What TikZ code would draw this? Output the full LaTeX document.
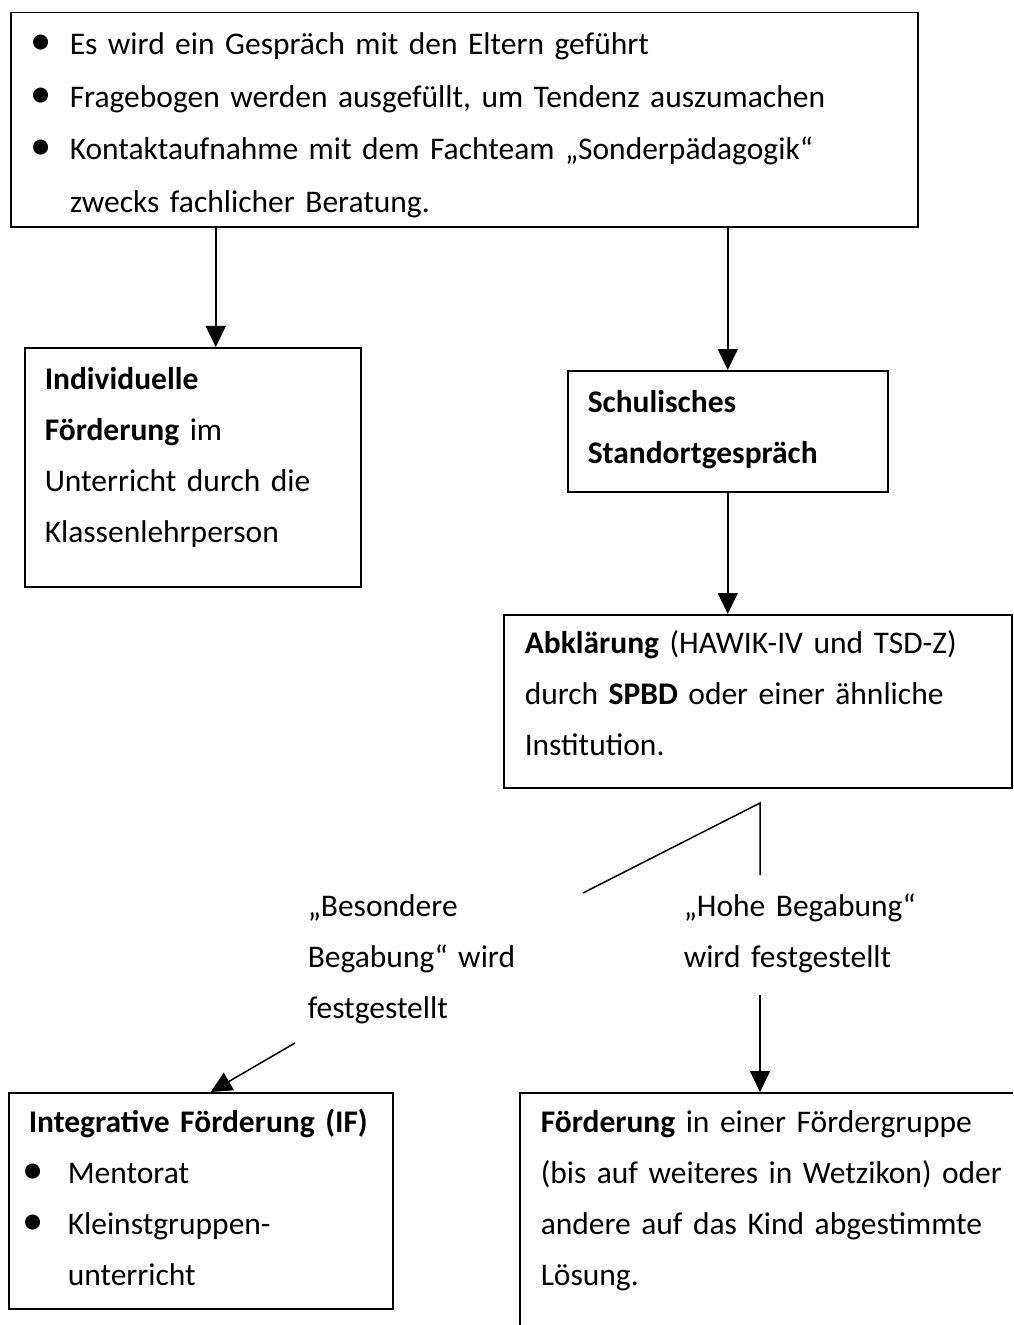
\documentclass[tikz,border=0pt]{standalone}
\usepackage{fontspec}
\setmainfont{Carlito}[WordSpace=0.8]
\usetikzlibrary{positioning,arrows.meta,calc}
\tikzset{>={Triangle[length=8.4pt,width=8pt]}}
\newcommand{\itm}{\makebox[13.6pt][l]{\hspace{-2pt}\scalebox{1.35}{\textbullet}}}
\newcommand{\itmb}{\makebox[15.6pt][l]{\hspace{-2.4pt}\scalebox{1.35}{\textbullet}}}

\begin{document}
\begin{tikzpicture}[x=0.4pt, y=-0.4pt, line width=0.6pt,
    box/.style={draw, rectangle, inner sep=0pt, anchor=north west},
    txt/.style={anchor=base west, inner sep=0pt, align=left, text width=#1,
      font=\fontsize{12.6}{20.4}\selectfont},
    txt/.default=220pt]
  \useasboundingbox (0,0) rectangle (1013,1325);
  \clip (0,0) rectangle (1013,1325);

  \node[box, minimum width=362.8pt, minimum height=85.6pt] (info) at (10,12) {};
  \node[txt=355pt, font=\fontsize{12.6}{21}\selectfont] (infotext) at (35,55)
    {\itm Es wird ein Gespräch mit den Eltern geführt\\
     \itm Fragebogen werden ausgefüllt, um Tendenz auszumachen\\
     \itm Kontaktaufnahme mit dem Fachteam „Sonderpädagogik“\\
     \makebox[13.6pt]{}zwecks fachlicher Beratung.};

  \node[box, minimum width=134.4pt, minimum height=95.6pt] (indiv) at (24,347) {};
  \node[txt] (indivtext) at (44,389)
    {\textbf{Individuelle}\\ \textbf{Förderung} im\\ Unterricht durch die\\ Klassenlehrperson};

  \node[box, minimum width=128pt, minimum height=48.4pt] (standort) at (567,370) {};
  \node[txt] (standorttext) at (587,412) {\textbf{Schulisches}\\ \textbf{Standortgespräch}};

  \node[box, minimum width=203.2pt, minimum height=69.2pt] (abkl) at (503,614) {};
  \node[txt] (abkltext) at (524,653)
    {\textbf{Abklärung} (HAWIK-IV und TSD-Z)\\ durch \textbf{SPBD} oder einer ähnliche\\ Institution.};

  \node[txt] (besonders) at (307,916) {„Besondere\\ Begabung“ wird\\ festgestellt};
  \node[txt] (hoch) at (683,916) {„Hohe Begabung“\\ wird festgestellt};

  \node[box, minimum width=153.6pt, minimum height=86.4pt] (integr) at (8,1092) {};
  \node[txt] (integrtext) at (28,1132)
    {\textbf{Integrative Förderung (IF)}\\ \itmb Mentorat\\ \itmb Kleinstgruppen-\\ \makebox[15.6pt]{}unterricht};

  \node[box, minimum width=240pt, minimum height=120pt] (gruppe) at (519,1092) {}; % runs off the page
  \node[txt=240pt] (gruppetext) at (540,1132)
    {\textbf{Förderung} in einer Fördergruppe\\ (bis auf weiteres in Wetzikon) oder\\
     andere auf das Kind abgestimmte\\ Lösung.};

  \draw[->] ([xshift=9.2pt]indiv.north |- info.south) -- ([xshift=9.2pt]indiv.north);
  \draw[->] (info.south -| standort.north) -- (standort.north);
  \draw[->] (standort.south) -- (standort.south |- abkl.north);

  \coordinate (fork) at (760,803);
  \coordinate (forkB) at (583,893);
  \coordinate (forkH) at (760,875);
  \draw (forkB) -- (fork) -- (forkH);

  \coordinate (besEnd) at (295,1043);
  \draw[->] (besEnd) -- ([xshift=4pt]integr.north);
  \coordinate (hochEnd) at (760,995);
  \draw[->] (hochEnd) -- (hochEnd |- gruppe.north);
\end{tikzpicture}
\end{document}
